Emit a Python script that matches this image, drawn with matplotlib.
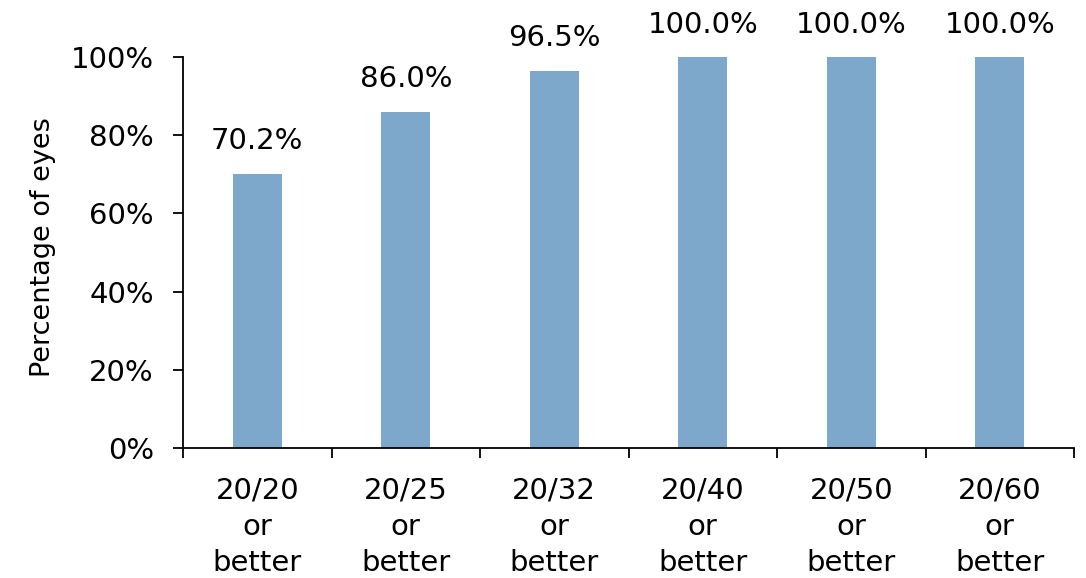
import matplotlib
matplotlib.use("Agg")
import matplotlib.pyplot as plt
import numpy as np

categories = ["20/20\nor\nbetter", "20/25\nor\nbetter", "20/32\nor\nbetter",
              "20/40\nor\nbetter", "20/50\nor\nbetter", "20/60\nor\nbetter"]
percent_eyes = [70.2, 86.0, 96.5, 100.0, 100.0, 100.0]
y_ticks = [0, 20, 40, 60, 80, 100]

plt.rcParams["font.family"] = ["DejaVu Sans"]
FS = 21
BAR_COLOR = "#7EA8CB"

fig = plt.figure(figsize=(10.86, 5.78), dpi=100)
ax = fig.add_axes([0.1685, 0.2249, 0.8205, 0.6765])

x = np.arange(len(categories))
ax.bar(x, percent_eyes, width=0.33, color=BAR_COLOR, zorder=2)

for xi, v in zip(x, percent_eyes):
    ax.annotate(f"{v:.1f}%", (xi, v), xytext=(0, 17.5), textcoords="offset points",
                ha="center", va="baseline", fontsize=FS)

ax.set_xlim(-0.5, len(categories) - 0.5)
ax.set_ylim(0, 100)

# category boundaries carry the tick marks; labels sit between them
ax.set_xticks(np.arange(len(categories) + 1) - 0.5)
ax.set_xticklabels([])
ax.set_xticks(x, minor=True)
ax.set_xticklabels(categories, minor=True, fontsize=FS, linespacing=1.37)
ax.tick_params(axis="x", which="major", length=7, width=1.3, direction="out")
ax.tick_params(axis="x", which="minor", length=0, pad=20.5)

ax.set_yticks(y_ticks)
ax.set_yticklabels([f"{t}%" for t in y_ticks], fontsize=FS)
ax.tick_params(axis="y", length=7, width=1.3, direction="out", pad=14)

ax.set_ylabel("Percentage of eyes", fontsize=19.5)
ax.yaxis.set_label_coords(-0.143, 0.514)

for side in ("top", "right"):
    ax.spines[side].set_visible(False)
for side in ("left", "bottom"):
    ax.spines[side].set_linewidth(1.3)
    ax.spines[side].set_color("black")

fig.savefig("out.png", dpi=100)
